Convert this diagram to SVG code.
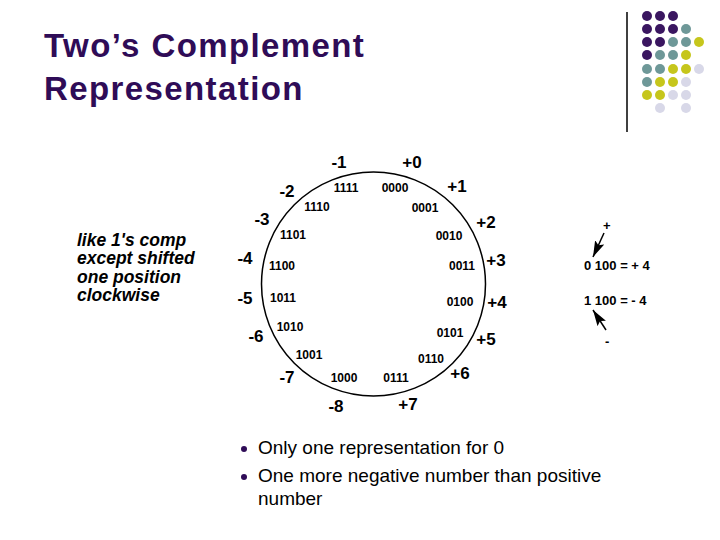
<svg xmlns="http://www.w3.org/2000/svg" width="720" height="540" viewBox="0 0 720 540">
<style>
.title{font-family:"Liberation Sans",Arial,sans-serif;font-weight:bold;font-size:33px;fill:#2f0c57;letter-spacing:1.4px}
.big{font-family:"Liberation Sans",Arial,sans-serif;font-weight:bold;font-size:17px;fill:#000;text-anchor:middle}
.bin{font-family:"Liberation Sans",Arial,sans-serif;font-weight:bold;font-size:12px;fill:#000;text-anchor:middle}
.note{font-family:"Liberation Sans",Arial,sans-serif;font-weight:bold;font-style:italic;font-size:17.5px;fill:#000}
.side{font-family:"Liberation Sans",Arial,sans-serif;font-weight:bold;font-size:13px;fill:#000}
.bul{font-family:"Liberation Sans",Arial,sans-serif;font-size:19px;fill:#000}
.p{fill:#3a1660}.t{fill:#6e9898}.y{fill:#c6c61c}.l{fill:#d8d8e8}
</style>
<defs>
<marker id="ah" markerUnits="userSpaceOnUse" markerWidth="17" markerHeight="11" refX="16" refY="5" orient="auto">
<path d="M0,0 L16,5 L0,10 L3,5 Z" fill="#000"/>
</marker>
</defs>
<rect width="720" height="540" fill="#fff"/>
<g id="decor">
<line x1="627" y1="12" x2="627" y2="132" stroke="#000" stroke-width="1.5"/>
<circle class="p" cx="647" cy="16" r="5"/><circle class="p" cx="660" cy="16" r="5"/><circle class="p" cx="673" cy="16" r="5"/>
<circle class="p" cx="647" cy="29" r="5"/><circle class="p" cx="660" cy="29" r="5"/><circle class="p" cx="673" cy="29" r="5"/><circle class="t" cx="686" cy="29" r="5"/>
<circle class="p" cx="647" cy="42" r="5"/><circle class="p" cx="660" cy="42" r="5"/><circle class="t" cx="673" cy="42" r="5"/><circle class="t" cx="686" cy="42" r="5"/><circle class="y" cx="699" cy="42" r="5"/>
<circle class="p" cx="647" cy="55" r="5"/><circle class="t" cx="660" cy="55" r="5"/><circle class="t" cx="673" cy="55" r="5"/><circle class="y" cx="686" cy="55" r="5"/>
<circle class="t" cx="647" cy="69" r="5"/><circle class="t" cx="660" cy="69" r="5"/><circle class="y" cx="673" cy="69" r="5"/><circle class="y" cx="686" cy="69" r="5"/><circle class="l" cx="699" cy="69" r="5"/>
<circle class="t" cx="647" cy="82" r="5"/><circle class="y" cx="660" cy="82" r="5"/><circle class="y" cx="673" cy="82" r="5"/><circle class="l" cx="686" cy="82" r="5"/>
<circle class="y" cx="647" cy="95" r="5"/><circle class="y" cx="660" cy="95" r="5"/><circle class="l" cx="673" cy="95" r="5"/><circle class="l" cx="686" cy="95" r="5"/>
<circle class="l" cx="660" cy="108" r="5"/><circle class="l" cx="686" cy="108" r="5"/>
</g>
<g id="title">
<text class="title" x="44" y="57">Two’s Complement</text>
<text class="title" x="44" y="100">Representation</text>
</g>
<g id="wheel">
<circle cx="373.5" cy="284" r="112" fill="none" stroke="#000" stroke-width="1.5"/>
</g>
<g id="decimal-labels">
<text class="big" x="339" y="168">-1</text>
<text class="big" x="412" y="168">+0</text>
<text class="big" x="287" y="197">-2</text>
<text class="big" x="457" y="192">+1</text>
<text class="big" x="262" y="225">-3</text>
<text class="big" x="486" y="228">+2</text>
<text class="big" x="245" y="264">-4</text>
<text class="big" x="496" y="266">+3</text>
<text class="big" x="245" y="304">-5</text>
<text class="big" x="497" y="308">+4</text>
<text class="big" x="256" y="342">-6</text>
<text class="big" x="486" y="345">+5</text>
<text class="big" x="287" y="383">-7</text>
<text class="big" x="460" y="379">+6</text>
<text class="big" x="336" y="412">-8</text>
<text class="big" x="408" y="410">+7</text>
</g>
<g id="binary-labels">
<text class="bin" x="346" y="192">1111</text>
<text class="bin" x="395" y="192">0000</text>
<text class="bin" x="317" y="211">1110</text>
<text class="bin" x="425" y="212">0001</text>
<text class="bin" x="293" y="239">1101</text>
<text class="bin" x="449" y="240">0010</text>
<text class="bin" x="282" y="270">1100</text>
<text class="bin" x="462" y="270">0011</text>
<text class="bin" x="283" y="302">1011</text>
<text class="bin" x="460" y="306">0100</text>
<text class="bin" x="290" y="331">1010</text>
<text class="bin" x="450" y="337">0101</text>
<text class="bin" x="309" y="359">1001</text>
<text class="bin" x="431" y="363">0110</text>
<text class="bin" x="344" y="382">1000</text>
<text class="bin" x="396" y="382">0111</text>
</g>
<g id="note">
<text class="note" x="77" y="246">like 1's comp</text>
<text class="note" x="77" y="264">except shifted</text>
<text class="note" x="77" y="283">one position</text>
<text class="note" x="77" y="301">clockwise</text>
</g>
<g id="sign-example">
<text class="side" x="603" y="230">+</text>
<text class="side" x="584" y="270">0 100 = + 4</text>
<text class="side" x="584" y="305">1 100 = - 4</text>
<text class="side" x="605" y="346">-</text>
</g>
<g id="connectors">
<line x1="604" y1="233" x2="593" y2="257" stroke="#000" stroke-width="1.5" marker-end="url(#ah)"/>
<line x1="606" y1="330" x2="593" y2="310" stroke="#000" stroke-width="1.5" marker-end="url(#ah)"/>
</g>
<g id="bullets">
<circle cx="244" cy="449" r="3" fill="#2f0c57"/>
<text class="bul" x="258" y="454">Only one representation for 0</text>
<circle cx="244" cy="477" r="3" fill="#2f0c57"/>
<text class="bul" x="258" y="482">One more negative number than positive</text>
<text class="bul" x="258" y="505">number</text>
</g>
</svg>
